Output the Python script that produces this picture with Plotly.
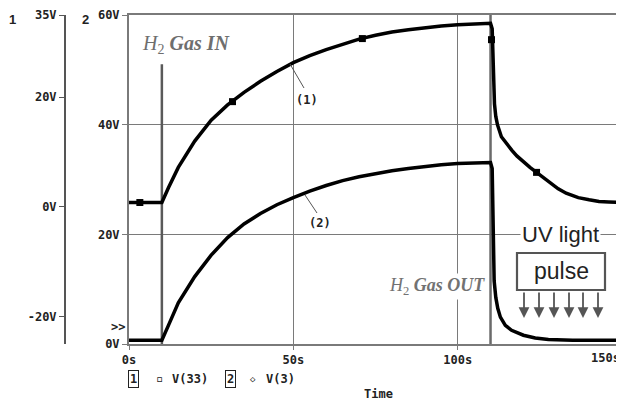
import plotly.graph_objects as go

# ---------------- data ----------------
# V(33) : trace 1, plotted on axis "1" (-25V .. 35V)
t1 = [0, 10, 12, 15, 20, 25, 30, 35, 40, 45, 50, 55, 60, 65, 70, 75, 80, 85, 90, 95,
      100, 105, 110, 110.5, 110.9, 111.2, 111.6, 112.1, 113.3, 114.8, 116.5, 118, 120,
      122, 124, 127, 130.6, 133, 136.7, 140, 143, 146, 150]
v1 = [0.8, 0.8, 3.5, 7.2, 12.0, 15.8, 18.6, 20.9, 22.9, 24.7, 26.3, 27.6, 28.7, 29.7, 30.6, 31.3,
      31.9, 32.3, 32.7, 33.0, 33.2, 33.4, 33.5, 32.5, 22.0, 18.8, 16.5, 15.0, 12.8, 11.5, 10.3,
      9.3, 8.2, 7.2, 6.3, 4.9, 3.3, 2.5, 1.7, 1.3, 1.0, 0.9, 0.8]
m1_t = [3.3, 31.5, 71, 110.3, 124]
m1_v = [0.8, 19.2, 30.7, 30.5, 6.3]

# V(3) : trace 2, plotted on axis "2" (0V .. 60V)
t2 = [0, 10, 12, 15, 20, 25, 30, 35, 40, 45, 50, 55, 60, 65, 70, 75, 80, 85, 90, 95,
      100, 105, 110, 110.5, 110.9, 111.1, 111.6, 112.2, 113, 114.5, 116.4, 120, 123.6,
      127.6, 135, 150]
v2 = [0.7, 0.7, 3.4, 7.5, 12.3, 16.2, 19.4, 21.9, 23.8, 25.4, 26.7, 27.9, 28.9, 29.8, 30.5,
      31.1, 31.6, 32.0, 32.4, 32.7, 32.9, 33.0, 33.1, 32.0, 20.0, 11.5, 8.5, 6.5, 4.9, 3.4,
      2.5, 1.6, 1.1, 0.8, 0.7, 0.7]

x_ticks = [0, 50, 100, 150]
x_labels = ["0s", "50s", "100s", ""]
x_last_label = "150s"
y2_ticks = [0, 20, 40, 60]
y2_labels = ["0V", "20V", "40V", "60V"]
y1_ticks = [-20, 0, 20, 35]
y1_labels = ["-20V", "0V", "20V", "35V"]
gas_in_t = 10
gas_out_t = 110

# ---------------- layout helpers ----------------
# the page body has an 8px margin, so the figure is drawn 8px in from the corner
OFF = 8
W, H = 624 - OFF, 401 - OFF
TOP, BOT = 15, 344          # plot area top / bottom in page pixels
LEFT, RIGHT = 129, 622      # plot area left / right in page pixels


def px(x):
    return (x - OFF) / W


def py(y):
    return (BOT - y) / (BOT - TOP)


def bold(lst):
    return ["<b>%s</b>" % s if s else "" for s in lst]


MONO = dict(family="DejaVu Sans Mono", size=12, color="#222")
GRID = "#7a7a7a"

fig = go.Figure()
fig.add_trace(go.Scatter(x=t2, y=v2, mode="lines", line=dict(color="black", width=3.5),
                         yaxis="y", showlegend=False, hoverinfo="skip"))
fig.add_trace(go.Scatter(x=t1, y=v1, mode="lines", line=dict(color="black", width=3.5),
                         yaxis="y2", showlegend=False, hoverinfo="skip"))
fig.add_trace(go.Scatter(x=m1_t, y=m1_v, mode="markers",
                         marker=dict(symbol="square", size=7, color="black"),
                         yaxis="y2", showlegend=False, hoverinfo="skip"))

fig.update_layout(
    width=W, height=H,
    margin=dict(l=0, r=0, t=TOP - OFF, b=H - (BOT - OFF), pad=0),
    paper_bgcolor="white", plot_bgcolor="white",
    showlegend=False,
    xaxis=dict(domain=[px(LEFT), px(RIGHT)], range=[0, 150], tickvals=x_ticks,
               ticktext=bold(x_labels),
               showgrid=True, gridcolor=GRID, gridwidth=1.2, zeroline=False,
               showline=True, mirror=True, linecolor=GRID, linewidth=2,
               ticks="outside", ticklen=4, tickcolor=GRID, tickfont=MONO, automargin=False),
    yaxis=dict(range=[0, 60], tickvals=y2_ticks, ticktext=bold(y2_labels),
               showgrid=True, gridcolor=GRID, gridwidth=1.2, zeroline=False,
               showline=True, mirror=True, linecolor=GRID, linewidth=2,
               ticks="outside", ticklen=5, tickcolor=GRID, tickfont=MONO, automargin=False),
    yaxis2=dict(range=[-25, 35], tickvals=y1_ticks, ticktext=bold(y1_labels),
                overlaying="y", anchor="free", position=px(65), side="left",
                showgrid=False, zeroline=False, showline=True, linecolor="#555", linewidth=2,
                ticks="outside", ticklen=5, tickcolor="#555", tickfont=MONO, automargin=False),
)

shapes = []
shapes.append(dict(type="line", xref="x", yref="y", x0=gas_in_t, x1=gas_in_t, y0=0, y1=51,
                   line=dict(color="#5a5a5a", width=2.5), layer="between"))
shapes.append(dict(type="line", xref="x", yref="y", x0=gas_out_t, x1=gas_out_t, y0=0, y1=60,
                   line=dict(color="#6a6a6a", width=2.5), layer="between"))
shapes.append(dict(type="line", xref="paper", yref="paper", x0=px(290), y0=py(64),
                   x1=px(304), y1=py(88), line=dict(color="#555", width=1)))
shapes.append(dict(type="line", xref="paper", yref="paper", x0=px(305), y0=py(195),
                   x1=px(317), y1=py(213), line=dict(color="#555", width=1)))
shapes.append(dict(type="rect", xref="paper", yref="paper", x0=px(517), x1=px(605),
                   y0=py(290), y1=py(253), line=dict(color="#555", width=2.2),
                   fillcolor="white", layer="above"))
fig.update_layout(shapes=shapes)

ann = []


def text(x, y, s, font, **kw):
    d = dict(x=px(x), y=py(y), xref="paper", yref="paper", text=s, showarrow=False,
             font=font, xanchor="center", yanchor="middle")
    d.update(kw)
    ann.append(d)


text(12, 20, "<b>1</b>", dict(family="Liberation Sans", size=13, color="#222"))
text(85, 20, "<b>2</b>", dict(family="Liberation Sans", size=13, color="#222"))
text(118, 327, "<b>&gt;&gt;</b>", MONO)
text(307, 100, "<b>(1)</b>", MONO)
text(320, 223, "<b>(2)</b>", MONO)
text(622, 358, "<b>%s</b>" % x_last_label, MONO, xanchor="right")

text(186, 44, "<i>H</i><sub>2</sub><b><i> Gas IN</i></b>",
     dict(family="Liberation Serif", size=20, color="#6e6e6e"))
text(437, 286, "<i>H</i><sub>2</sub><b><i> Gas OUT</i></b>",
     dict(family="Liberation Serif", size=18, color="#727272"), bgcolor="white")
text(560, 234, "UV light", dict(family="Liberation Sans", size=22, color="#222"),
     bgcolor="white", borderpad=1)
text(561, 271, "pulse", dict(family="Liberation Sans", size=23, color="#222"))

for ax_x in [524, 539, 554, 569, 583, 598]:
    ann.append(dict(x=px(ax_x), y=py(318), xref="paper", yref="paper", text="",
                    showarrow=True, ax=0, ay=-27, arrowhead=2, arrowsize=1.2,
                    arrowwidth=1.8, arrowcolor="#555"))

# legend row
text(133, 379, "<b>1</b>", MONO, bordercolor="#222", borderwidth=1, borderpad=1)
text(159, 379, "<b>▫</b>", MONO)
text(190, 379, "<b>V(33)</b>", MONO)
text(230, 379, "<b>2</b>", MONO, bordercolor="#222", borderwidth=1, borderpad=1)
text(253, 379, "◇", dict(family="DejaVu Sans Mono", size=9, color="#222"))
text(280, 379, "<b>V(3)</b>", MONO)
text(378, 394, "<b>Time</b>", MONO)

fig.update_layout(annotations=ann)
fig.write_html("out.html")
